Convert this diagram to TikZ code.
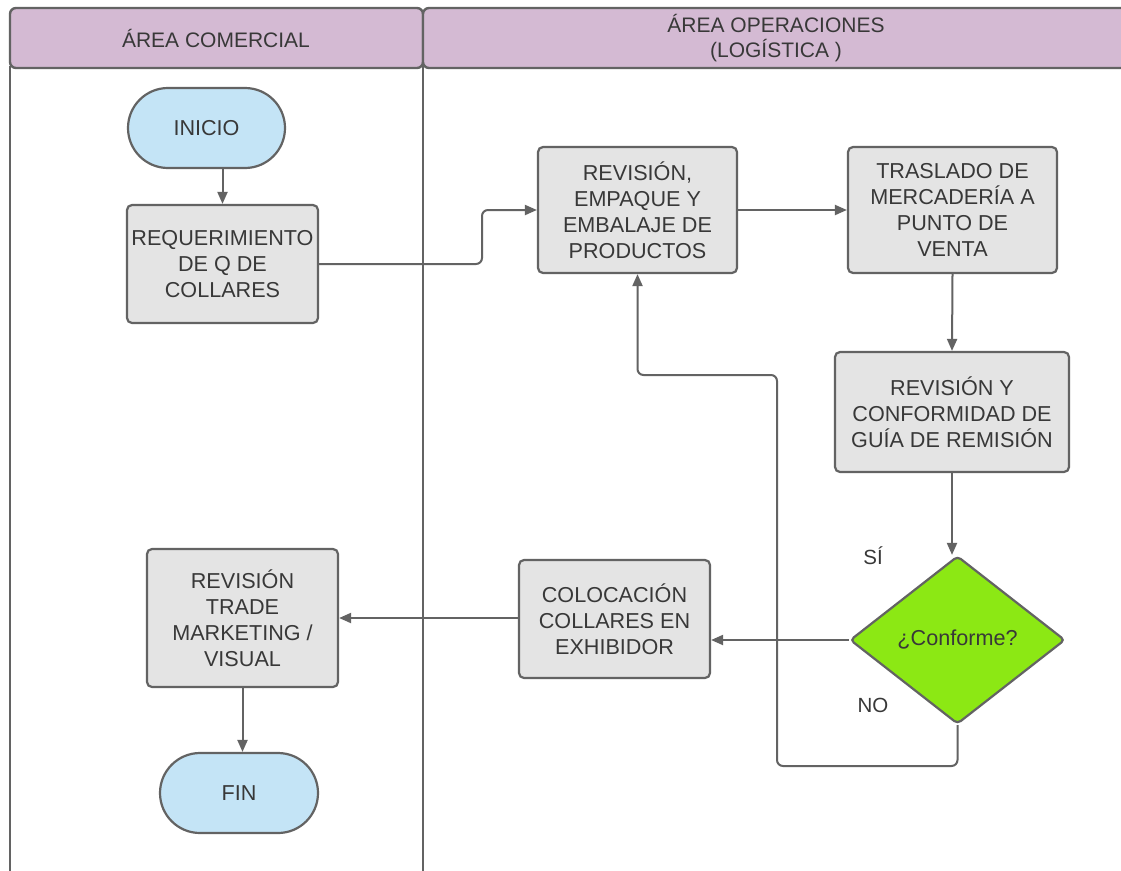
\documentclass[tikz,border=0pt]{standalone}
\usepackage{fontspec}
\setmainfont{Liberation Sans}
\usetikzlibrary{shapes.geometric,arrows.meta}
\definecolor{edgegray}{HTML}{636363}
\definecolor{textgray}{HTML}{383838}
\definecolor{hdrfill}{HTML}{D4BAD3}
\definecolor{termfill}{HTML}{C4E4F6}
\definecolor{procfill}{HTML}{E4E4E4}
\definecolor{decfill}{HTML}{8CE814}
\tikzset{
  lanebar/.style={draw=edgegray, line width=2.4pt, fill=hdrfill, rounded corners=6pt},
  laneline/.style={draw=edgegray, line width=2.4pt},
  hdrtext/.style={text=textgray, font=\fontsize{21}{25}\selectfont, align=center, inner sep=0pt},
  proc/.style={draw=edgegray, line width=2.2pt, fill=procfill, rounded corners=5pt,
    text=textgray, font=\fontsize{21.6}{26}\selectfont, align=center, inner sep=0pt},
  term/.style={proc, fill=termfill, rounded corners=40pt},
  decision/.style={draw=edgegray, line width=2.2pt, fill=decfill, shape=diamond,
    aspect=1.28, minimum width=215pt, minimum height=168pt, inner sep=0pt,
    rounded corners=4pt, text=textgray, font=\fontsize{21.6}{26}\selectfont},
  tag/.style={text=textgray, font=\fontsize{20.5}{24}\selectfont, inner sep=0pt},
  flow/.style={draw=edgegray, line width=2pt, rounded corners=6pt,
    -{Triangle[length=12pt,width=10pt]}},
}
\begin{document}
\begin{tikzpicture}[x=1pt,y=-1pt]
\useasboundingbox (0,0) rectangle (1121,870);
\clip (0,0) rectangle (1121,870);
\fill[white] (0,0) rectangle (1121,870);

% swimlanes
\draw[laneline] (10,66) -- (10,880);
\draw[laneline] (423,66) -- (423,880);
\draw[lanebar] (10,8) rectangle (423,68);
\draw[lanebar] (423,8) rectangle (1140,68);
\node[hdrtext] (hcom) at (216,38) {ÁREA COMERCIAL};
\node[hdrtext] (hope) at (776,38) {ÁREA OPERACIONES\\(LOGÍSTICA )};

% nodes
\node[term, minimum width=157pt, minimum height=80pt] (ini) at (206.5,128) {INICIO};
\node[proc, minimum width=191pt, minimum height=118pt] (req) at (222.5,264) {REQUERIMIENTO\\DE Q DE\\COLLARES};
\node[proc, minimum width=199pt, minimum height=126pt] (emp) at (637.5,210) {REVISIÓN,\\EMPAQUE Y\\EMBALAJE DE\\PRODUCTOS};
\node[proc, minimum width=209pt, minimum height=126pt] (tras) at (952.5,210) {TRASLADO DE\\MERCADERÍA A\\PUNTO DE\\VENTA};
\node[proc, minimum width=234pt, minimum height=120pt] (conf) at (952,412) {REVISIÓN Y\\CONFORMIDAD DE\\GUÍA DE REMISIÓN};
\node[decision] (dec) at (957.5,640) {¿Conforme?};
\node[proc, minimum width=191pt, minimum height=118pt] (col) at (614.5,619) {COLOCACIÓN\\COLLARES EN\\EXHIBIDOR};
\node[proc, minimum width=191pt, minimum height=138pt] (trade) at (242.5,618) {REVISIÓN\\TRADE\\MARKETING /\\VISUAL};
\node[term, minimum width=158pt, minimum height=80pt] (fin) at (239,793) {FIN};
\node[tag] (si) at (873,556) {SÍ};
\node[tag] (no) at (873,705) {NO};

% connectors
\coordinate (jreq) at (482,240);
\coordinate (lpa) at (777,766);
\coordinate (lpb) at (777,375);
\draw[flow] (req.north |- ini.south) -- (req.north);
\draw[flow] (req.east) -| (jreq) |- (emp.west);
\draw[flow] (emp.east) -- (tras.west);
\draw[flow] (tras.south) -- (conf.north);
\draw[flow] (conf.south) -- (conf.south |- dec.north);
\draw[flow] (dec.west) -- (dec.west -| col.east);
\draw[flow] (col.west |- trade.east) -- (trade.east);
\draw[flow] (trade.south) -- (trade.south |- fin.north);
\draw[flow] (dec.south) |- (lpa) -- (lpb) -| (emp.south);
\end{tikzpicture}
\end{document}
